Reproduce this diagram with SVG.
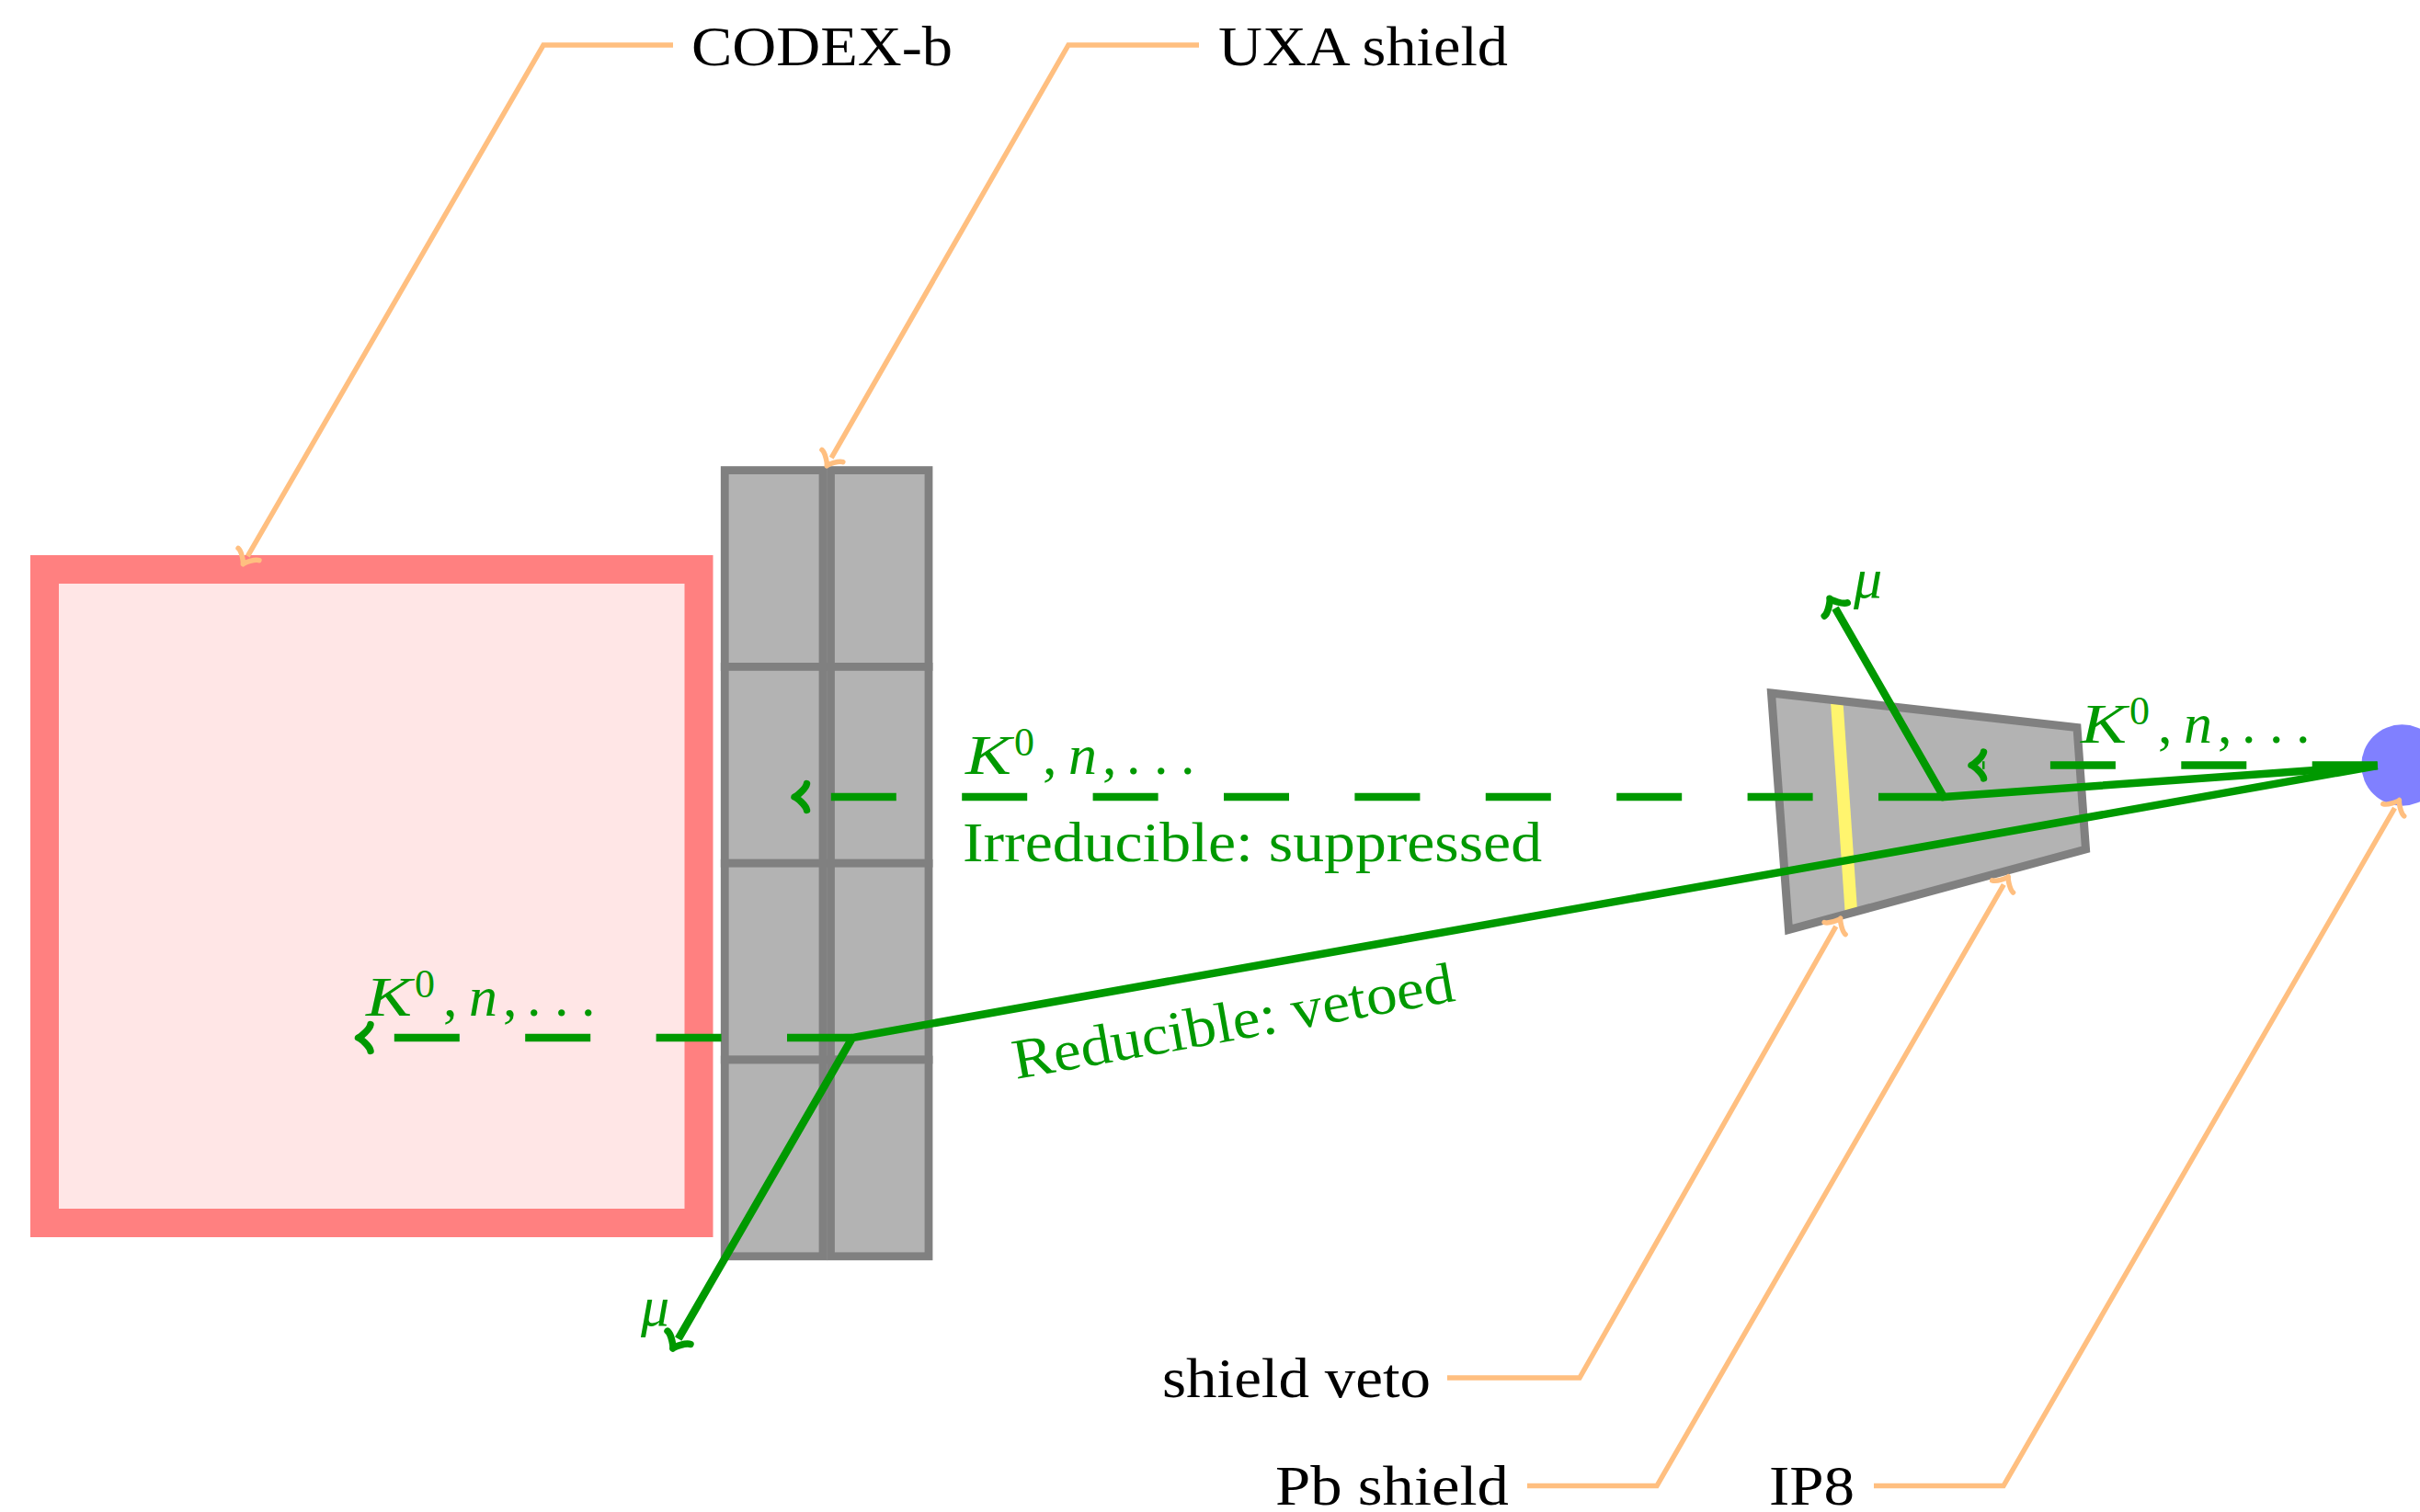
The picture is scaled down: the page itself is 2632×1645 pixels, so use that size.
<svg xmlns="http://www.w3.org/2000/svg" width="2632" height="1645" viewBox="0 0 2632 1645">
  <defs>
    <style>
      .lbl { font-family: "Liberation Serif", "Times New Roman", serif; font-size: 62px; fill: #000000; }
      .grn { fill: #009900; }
      .math { font-style: italic; }
      .cell { fill: #b3b3b3; stroke: #808080; stroke-width: 8.8; }
      .trk { fill: none; stroke: #009900; stroke-width: 8.5; stroke-linejoin: miter; }
      .dash { stroke-dasharray: 71 71.4; }
      .lead { fill: none; stroke: #ffbf80; stroke-width: 5.5; stroke-linejoin: miter; }
    </style>
    <!-- curved "to" style arrow tips; the tip sits ahead of the path end -->
    <marker id="tipG" markerUnits="userSpaceOnUse" viewBox="-20 -20 30 40" markerWidth="30" markerHeight="40" refX="-12" refY="0" orient="auto" overflow="visible">
      <path d="M -13.5,-14.4 C -12.6,-9 -2.7,-0.9 0,0 C -2.7,0.9 -12.6,9 -13.5,14.4" fill="none" stroke="#009900" stroke-width="7.5" stroke-linecap="round" stroke-linejoin="round" stroke-dasharray="none"/>
    </marker>
    <marker id="tipO" markerUnits="userSpaceOnUse" viewBox="-20 -20 30 40" markerWidth="30" markerHeight="40" refX="-10" refY="0" orient="auto" overflow="visible">
      <path d="M -12.4,-13.2 C -11.55,-8.25 -2.5,-0.8 0,0 C -2.5,0.8 -11.55,8.25 -12.4,13.2" fill="none" stroke="#ffbf80" stroke-width="5.5" stroke-linecap="round" stroke-linejoin="round"/>
    </marker>
  </defs>

  <rect width="2632" height="1645" fill="#ffffff"/>

  <!-- CODEX-b detector volume -->
  <g id="codexb">
    <rect x="48.5" y="619.5" width="711.5" height="711" fill="#ffe6e6" stroke="#ff8080" stroke-width="31"/>
  </g>

  <!-- UXA shield wall: two columns of four blocks -->
  <g id="uxa-shield">
    <rect class="cell" x="788.25" y="511.6" width="106.75" height="213.8"/>
    <rect class="cell" x="788.25" y="725.4" width="106.75" height="213.8"/>
    <rect class="cell" x="788.25" y="939.2" width="106.75" height="213.8"/>
    <rect class="cell" x="788.25" y="1153" width="106.75" height="213.8"/>
    <rect class="cell" x="903.5" y="511.6" width="106.5" height="213.8"/>
    <rect class="cell" x="903.5" y="725.4" width="106.5" height="213.8"/>
    <rect class="cell" x="903.5" y="939.2" width="106.5" height="213.8"/>
    <rect class="cell" x="903.5" y="1153" width="106.5" height="213.8"/>
  </g>

  <!-- Pb shield with the embedded veto layer -->
  <g id="pb-shield">
    <polygon points="1926.5,754 2259,791.5 2268.5,924 1945.5,1011.5" fill="#b3b3b3"/>
    <g id="shield-veto">
      <line x1="1997.5" y1="760" x2="2013.5" y2="994" stroke="#fff56e" stroke-width="13.5"/>
    </g>
    <polygon points="1926.5,754 2259,791.5 2268.5,924 1945.5,1011.5" fill="none" stroke="#808080" stroke-width="9" stroke-linejoin="miter"/>
  </g>

  <!-- interaction point -->
  <g id="ip8">
    <circle cx="2612.5" cy="832.5" r="44.2" fill="#8080ff"/>
  </g>

  <!-- particle tracks -->
  <g id="tracks">
    <path class="trk" d="M 2585.7,833 L 2114,867 L 1996,661.7" marker-end="url(#tipG)"/>
    <path class="trk" d="M 2585.7,833 L 927,1129 L 737.75,1456.6" marker-end="url(#tipG)"/>
    <path class="trk dash" d="M 2114,867 L 876,867" marker-end="url(#tipG)"/>
    <path class="trk dash" d="M 2585.7,832.5 L 2156,832.5" marker-end="url(#tipG)"/>
    <path class="trk dash" d="M 927,1129 L 401.5,1129" marker-end="url(#tipG)"/>
  </g>

  <!-- label leaders -->
  <g id="leaders">
    <path class="lead" d="M 732,49 H 591 L 269.3,605.1" marker-end="url(#tipO)"/>
    <path class="lead" d="M 1304,49 H 1162 L 904.2,498.1" marker-end="url(#tipO)"/>
    <path class="lead" d="M 1574,1499 H 1718 L 1996.8,1007.9" marker-end="url(#tipO)"/>
    <path class="lead" d="M 1661,1616.5 H 1802 L 2179.3,962.4" marker-end="url(#tipO)"/>
    <path class="lead" d="M 2038,1616.5 H 2179 L 2604.5,879.2" marker-end="url(#tipO)"/>
  </g>

  <!-- component names -->
  <g id="names">
    <text class="lbl" x="752" y="71" textLength="284" lengthAdjust="spacingAndGlyphs">CODEX-b</text>
    <text class="lbl" x="1325" y="71" textLength="315" lengthAdjust="spacingAndGlyphs">UXA shield</text>
    <text class="lbl" x="1264" y="1520" textLength="292" lengthAdjust="spacingAndGlyphs">shield veto</text>
    <text class="lbl" x="1387" y="1637" textLength="254" lengthAdjust="spacingAndGlyphs">Pb shield</text>
    <text class="lbl" x="1924" y="1637" textLength="93" lengthAdjust="spacingAndGlyphs">IP8</text>
  </g>

  <!-- track annotations -->
  <g id="track-labels">
    <text class="lbl grn" transform="translate(1050,841.7)"><tspan class="math" x="0" y="0" textLength="50" lengthAdjust="spacingAndGlyphs">K</tspan><tspan x="53" y="-20" font-size="44">0</tspan><tspan x="84" y="0">,</tspan><tspan class="math" x="112" y="0">n</tspan><tspan x="149" y="0">,</tspan><tspan x="175 205 234" y="0">...</tspan></text>
    <text class="lbl grn" transform="translate(2263,807.7)"><tspan class="math" x="0" y="0" textLength="50" lengthAdjust="spacingAndGlyphs">K</tspan><tspan x="53" y="-20" font-size="44">0</tspan><tspan x="84" y="0">,</tspan><tspan class="math" x="112" y="0">n</tspan><tspan x="149" y="0">,</tspan><tspan x="175 205 234" y="0">...</tspan></text>
    <text class="lbl grn" transform="translate(398,1105)"><tspan class="math" x="0" y="0" textLength="50" lengthAdjust="spacingAndGlyphs">K</tspan><tspan x="53" y="-20" font-size="44">0</tspan><tspan x="84" y="0">,</tspan><tspan class="math" x="112" y="0">n</tspan><tspan x="149" y="0">,</tspan><tspan x="175 205 234" y="0">...</tspan></text>
    <text class="lbl grn" x="1047" y="936.7" textLength="630" lengthAdjust="spacingAndGlyphs">Irreducible: suppressed</text>
    <text class="lbl grn" transform="translate(1105,1174) rotate(-10.1)" x="0" y="0" textLength="487" lengthAdjust="spacingAndGlyphs">Reducible: vetoed</text>
    <text class="lbl grn math" x="2016" y="650">μ</text>
    <text class="lbl grn math" x="697" y="1442">μ</text>
  </g>
</svg>
